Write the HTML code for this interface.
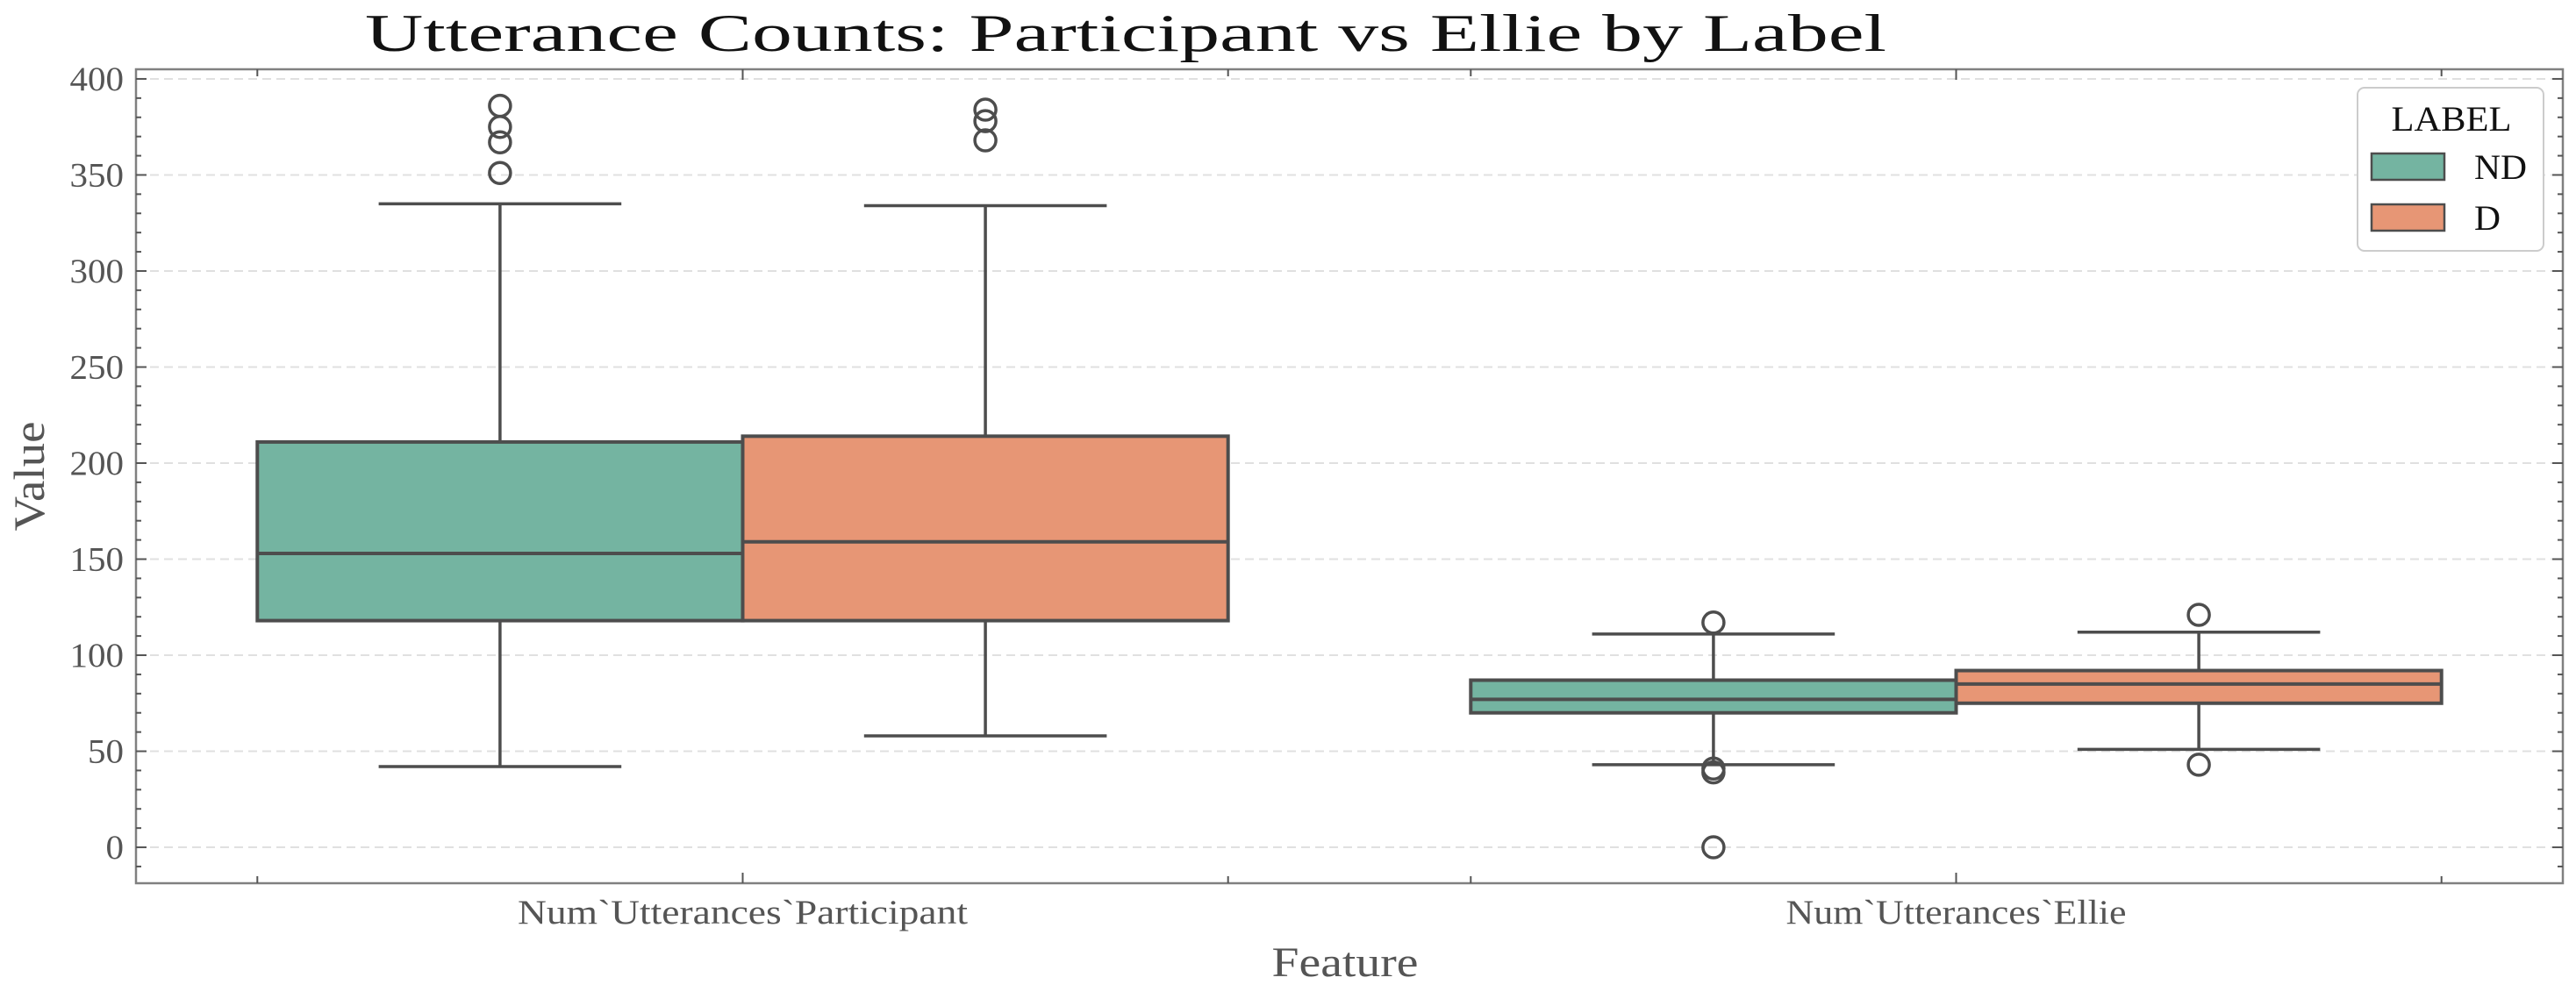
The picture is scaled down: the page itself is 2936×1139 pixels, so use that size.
<!DOCTYPE html>
<html><head><meta charset="utf-8"><style>
html,body{margin:0;padding:0;background:#fff;}
svg{display:block;font-family:"Liberation Serif",serif;}
</style></head><body>
<svg id="chart" width="2936" height="1139" viewBox="0 0 2936 1139" xmlns="http://www.w3.org/2000/svg"></svg>
<script>
const categories = ["Num`Utterances`Participant", "Num`Utterances`Ellie"];
const hues = ["ND", "D"];
const hueColors = ["#74b4a1", "#e79675"];
// [low whisker, q1, median, q3, high whisker] per category, per hue
const statsND = [[42, 118, 153, 211, 335], [43, 70, 77, 87, 111]];
const statsD = [[58, 118, 159, 214, 334], [51, 75, 85, 92, 112]];
const outliersND = [[351, 367, 375, 386], [117, 41, 39, 0]];
const outliersD = [[368, 378, 384], [121, 43]];
const yTicks = [0, 50, 100, 150, 200, 250, 300, 350, 400];

const L = 155, R = 2921, T = 79, B = 1007;
const yMin = -18.7, yMax = 405;
const xMin = -0.5, xMax = 1.5;
const ys = v => B - (v - yMin) / (yMax - yMin) * (B - T);
const xs = v => L + (v - xMin) / (xMax - xMin) * (R - L);
const svg = document.getElementById('chart');
const NS = "http://www.w3.org/2000/svg";
function mk(tag, attrs, parent) {
  const e = document.createElementNS(NS, tag);
  for (const k in attrs) e.setAttribute(k, attrs[k]);
  (parent || svg).appendChild(e);
  return e;
}
const LC = "#4d4d4d";

// grid
yTicks.forEach(t => {
  const g = mk('line', {x1: L, x2: R, y1: ys(t), y2: ys(t), stroke: "#e0e0e0", "stroke-width": 2, "stroke-dasharray": "10,6"});
  
  
});

// boxes
const width = 0.8, hw = width / 2;
[statsND, statsD].forEach((stats, h) => {
  const outs = h === 0 ? outliersND : outliersD;
  stats.forEach((s, c) => {
    const x0 = xs(c - hw + h * hw), x1 = xs(c + h * hw), xc = (x0 + x1) / 2, cw = (x1 - x0) / 4;
    const grp = mk('g', {});
    
    
    mk('line', {x1: xc, x2: xc, y1: ys(s[0]), y2: ys(s[1]), stroke: LC, "stroke-width": 3.5}, grp);
    mk('line', {x1: xc, x2: xc, y1: ys(s[3]), y2: ys(s[4]), stroke: LC, "stroke-width": 3.5}, grp);
    mk('line', {x1: xc - cw, x2: xc + cw, y1: ys(s[0]), y2: ys(s[0]), stroke: LC, "stroke-width": 3.5}, grp);
    mk('line', {x1: xc - cw, x2: xc + cw, y1: ys(s[4]), y2: ys(s[4]), stroke: LC, "stroke-width": 3.5}, grp);
    mk('rect', {x: x0, y: ys(s[3]), width: x1 - x0, height: ys(s[1]) - ys(s[3]), fill: hueColors[h], stroke: LC, "stroke-width": 4}, grp);
    mk('line', {x1: x0, x2: x1, y1: ys(s[2]), y2: ys(s[2]), stroke: LC, "stroke-width": 4}, grp);
    outs[c].forEach(o => {
      const p = mk('circle', {cx: xc, cy: ys(o), r: 12, fill: "none", stroke: LC, "stroke-width": 3.5}, grp);
      
      
    });
  });
});

// axes frame
const fr = mk('rect', {x: L, y: T, width: R - L, height: B - T, fill: "none", stroke: "#808080", "stroke-width": 2.5});



// y ticks
for (let v = -10; v <= 400; v += 10) {
  const major = v % 50 === 0;
  const len = major ? 12 : 6;
  mk('line', {x1: L, x2: L + len, y1: ys(v), y2: ys(v), stroke: "#555", "stroke-width": 2});
  mk('line', {x1: R, x2: R - len, y1: ys(v), y2: ys(v), stroke: "#555", "stroke-width": 2});
}
yTicks.forEach(t => {
  const s = String(t);
  const tx = mk('text', {x: L - 14, y: ys(t) + 13, "text-anchor": "end", "font-size": 39, fill: "#555", textLength: s.length * 20.5, lengthAdjust: "spacingAndGlyphs"});
  tx.textContent = s;
  
  
});
// x ticks
[-0.4, 0, 0.4, 0.6, 1, 1.4].forEach(v => {
  const major = Math.abs(v - Math.round(v)) < 1e-9;
  const len = major ? 12 : 8;
  mk('line', {x1: xs(v), x2: xs(v), y1: B, y2: B - len, stroke: "#555", "stroke-width": 2});
  mk('line', {x1: xs(v), x2: xs(v), y1: T, y2: T + len, stroke: "#555", "stroke-width": 2});
});
const xLabelLen = [513, 388];
categories.forEach((c, i) => {
  const tx = mk('text', {x: xs(i), y: 1053, "text-anchor": "middle", "font-size": 39, fill: "#555", textLength: xLabelLen[i], lengthAdjust: "spacingAndGlyphs"});
  tx.textContent = c;
  
  
});

// titles
let t = mk('text', {x: 1283, y: 58, "text-anchor": "middle", "font-size": 60, fill: "#111", textLength: 1734, lengthAdjust: "spacingAndGlyphs"});
t.textContent = "Utterance Counts: Participant vs Ellie by Label";


t = mk('text', {x: 1533, y: 1113, "text-anchor": "middle", "font-size": 48, fill: "#555", textLength: 167, lengthAdjust: "spacingAndGlyphs"});
t.textContent = "Feature";


t = mk('text', {x: 50, y: 543, "text-anchor": "middle", "font-size": 50, fill: "#555", transform: "rotate(-90 50 543)", textLength: 125, lengthAdjust: "spacingAndGlyphs"});
t.textContent = "Value";



// legend
const lg = mk('g', {});


mk('rect', {x: 2687, y: 100, width: 212, height: 186, rx: 8, fill: "#fff", stroke: "#ccc", "stroke-width": 2}, lg);
t = mk('text', {x: 2794, y: 149, "text-anchor": "middle", "font-size": 40, fill: "#111", textLength: 137, lengthAdjust: "spacingAndGlyphs"}, lg);
t.textContent = "LABEL";
const legLen = [60, 30];
hues.forEach((h, i) => {
  const y = 175 + i * 58;
  const r = mk('rect', {x: 2703, y: y, width: 83, height: 30, fill: hueColors[i], stroke: LC, "stroke-width": 2.5}, lg);
  
  
  const tx = mk('text', {x: 2820, y: y + 29, "font-size": 40, fill: "#111", textLength: legLen[i], lengthAdjust: "spacingAndGlyphs"}, lg);
  tx.textContent = h;
  
  
});
</script>
</body></html>
